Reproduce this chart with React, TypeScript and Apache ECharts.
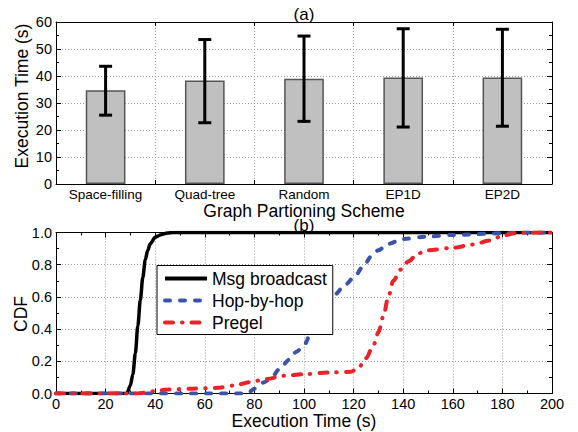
import React, { useEffect, useRef } from 'react';
import * as echarts from 'echarts';

const categories = ['Space-filling', 'Quad-tree', 'Random', 'EP1D', 'EP2D'];
const meanTimes = [34.7, 38.3, 39.0, 39.4, 39.4];
const errLow = [25.5, 22.7, 23.2, 21.1, 21.4];
const errHigh = [43.6, 53.5, 54.8, 57.5, 57.3];

const seriesNames = ['Msg broadcast', 'Hop-by-hop', 'Pregel'];

const msgBroadcast = [
  [0, 0], [28.5, 0], [30, 0.05], [31, 0.12], [32, 0.25], [33, 0.42], [34, 0.58],
  [35, 0.72], [36, 0.83], [37, 0.89], [38, 0.93], [40, 0.97], [42, 0.985],
  [45, 0.997], [47, 1.0], [200, 1.0],
];
const hopByHop = [
  [0, 0], [76, 0], [78, 0.01], [80, 0.03], [84, 0.07], [87, 0.1], [90, 0.15],
  [94, 0.21], [97, 0.26], [100, 0.3], [103, 0.38], [106, 0.48], [109, 0.55],
  [112, 0.61], [117, 0.68], [120, 0.72], [124, 0.79], [127, 0.85], [130, 0.89],
  [134, 0.93], [140, 0.96], [150, 0.975], [160, 0.985], [180, 0.995], [190, 1.0], [200, 1.0],
];
const pregel = [
  [0, 0], [33, 0], [36, 0.005], [40, 0.015], [45, 0.025], [55, 0.03], [65, 0.035],
  [72, 0.05], [78, 0.07], [85, 0.09], [92, 0.11], [100, 0.12], [110, 0.13],
  [119, 0.135], [122, 0.16], [125, 0.22], [128, 0.3], [130, 0.38], [132, 0.48],
  [134, 0.6], [136, 0.7], [139, 0.77], [142, 0.82], [146, 0.87], [150, 0.89],
  [160, 0.905], [168, 0.925], [175, 0.95], [180, 0.98], [185, 0.995], [190, 1.0], [200, 1.0],
];

const FONT = 'Arial, Liberation Sans, Helvetica, sans-serif';
const BLACK = '#000';

const gridLine = { show: true, lineStyle: { color: '#9a9a9a', type: [1, 2], width: 1 } };
const axisLine = { show: true, onZero: false, lineStyle: { color: BLACK, width: 1 } };
const tickIn = (len: number) => ({ show: true, inside: true, length: len, lineStyle: { color: BLACK, width: 1 } });
const minorIn = { show: true, splitNumber: 2, length: 3, lineStyle: { color: BLACK, width: 1 } };

function buildOption(): any {
  const errData = categories.map((_, i) => [i, errLow[i], errHigh[i]]);
  const txt = (text: string, x: number, y: number, size: number, rot = 0) => ({
    type: 'text',
    x,
    y,
    rotation: rot,
    style: {
      text,
      fontSize: size,
      fontFamily: FONT,
      fill: BLACK,
      align: 'center',
      verticalAlign: 'middle',
      textAlign: 'center',
      textVerticalAlign: 'middle',
    },
  });
  return {
    animation: false,
    backgroundColor: '#fff',
    textStyle: { fontFamily: FONT },
    grid: [
      { left: 56, top: 22, width: 496, height: 162, outerBoundsMode: 'none' },
      { left: 56, top: 232.5, width: 496, height: 161, outerBoundsMode: 'none' },
    ],
    xAxis: [
      {
        type: 'category', gridIndex: 0, data: categories, position: 'bottom',
        axisLine, axisTick: tickIn(4),
        axisLabel: { color: BLACK, fontSize: 13.5, fontFamily: FONT, margin: 3, interval: 0 },
        splitLine: gridLine,
      },
      {
        type: 'category', gridIndex: 0, data: categories, position: 'top',
        axisLine, axisTick: tickIn(4), axisLabel: { show: false }, splitLine: { show: false },
      },
      {
        type: 'value', gridIndex: 1, min: 0, max: 200, interval: 20, position: 'bottom',
        axisLine, axisTick: tickIn(5), minorTick: minorIn,
        axisLabel: { color: BLACK, fontSize: 14.5, fontFamily: FONT, margin: 3 },
        splitLine: gridLine,
      },
      {
        type: 'value', gridIndex: 1, min: 0, max: 200, interval: 20, position: 'top',
        axisLine, axisTick: tickIn(5), minorTick: minorIn,
        axisLabel: { show: false }, splitLine: { show: false },
      },
    ],
    yAxis: [
      {
        type: 'value', gridIndex: 0, min: 0, max: 60, interval: 10, position: 'left',
        axisLine, axisTick: tickIn(5), minorTick: minorIn,
        axisLabel: { color: BLACK, fontSize: 14.5, fontFamily: FONT, margin: 4 },
        splitLine: gridLine,
      },
      {
        type: 'value', gridIndex: 0, min: 0, max: 60, interval: 10, position: 'right',
        axisLine, axisTick: tickIn(5), minorTick: minorIn,
        axisLabel: { show: false }, splitLine: { show: false },
      },
      {
        type: 'value', gridIndex: 1, min: 0, max: 1, interval: 0.2, position: 'left',
        axisLine, axisTick: tickIn(5), minorTick: minorIn,
        axisLabel: {
          color: BLACK, fontSize: 14.5, fontFamily: FONT, margin: 4,
          formatter: (v: number) => v.toFixed(1),
        },
        splitLine: gridLine,
      },
      {
        type: 'value', gridIndex: 1, min: 0, max: 1, interval: 0.2, position: 'right',
        axisLine, axisTick: tickIn(5), minorTick: minorIn,
        axisLabel: { show: false }, splitLine: { show: false },
      },
    ],
    legend: {
      data: seriesNames,
      orient: 'vertical',
      left: 157,
      top: 265.5,
      padding: [4, 6, 3, 6],
      itemGap: 4,
      itemWidth: 42,
      itemHeight: 14,
      borderColor: BLACK,
      borderWidth: 1,
      borderRadius: 0,
      backgroundColor: '#fff',
      itemStyle: { opacity: 0, color: 'transparent', borderWidth: 0 },
      lineStyle: { width: 4 },
      textStyle: { fontSize: 17.5, color: BLACK, fontFamily: FONT },
      z: 20,
    },
    graphic: [
      txt('(a)', 304, 14, 17),
      txt('Graph Partioning Scheme', 304, 211, 17.5),
      txt('(b)', 304, 225, 17),
      txt('Execution Time (s)', 304, 421, 17.5),
      txt('Execution Time (s)', 22, 96, 17.5, Math.PI / 2),
      txt('CDF', 21, 314, 17.5, Math.PI / 2),
    ],
    series: [
      {
        type: 'bar', xAxisIndex: 0, yAxisIndex: 0, data: meanTimes, barWidth: '40%',
        itemStyle: { color: '#c0c0c0', borderColor: '#555', borderWidth: 1.5 },
        silent: true,
      },
      {
        type: 'custom', xAxisIndex: 0, yAxisIndex: 0, data: errData, z: 10,
        encode: { x: 0, y: [1, 2] },
        renderItem: (_params: any, api: any) => {
          const idx = api.value(0);
          const lo = api.coord([idx, api.value(1)]);
          const hi = api.coord([idx, api.value(2)]);
          const half = 6.5;
          const st = { stroke: BLACK, lineWidth: 3 };
          return {
            type: 'group',
            children: [
              { type: 'line', shape: { x1: lo[0], y1: lo[1], x2: hi[0], y2: hi[1] }, style: st },
              { type: 'line', shape: { x1: lo[0] - half, y1: lo[1], x2: lo[0] + half, y2: lo[1] }, style: st },
              { type: 'line', shape: { x1: hi[0] - half, y1: hi[1], x2: hi[0] + half, y2: hi[1] }, style: st },
            ],
          };
        },
      },
      {
        name: seriesNames[0], type: 'line', xAxisIndex: 2, yAxisIndex: 2, data: msgBroadcast,
        symbol: 'none', smooth: 0.3, smoothMonotone: 'x',
        lineStyle: { color: BLACK, width: 3.5, type: 'solid' },
        itemStyle: { color: BLACK },
      },
      {
        name: seriesNames[1], type: 'line', xAxisIndex: 2, yAxisIndex: 2, data: hopByHop,
        symbol: 'none', smooth: 0.3, smoothMonotone: 'x',
        lineStyle: { color: '#3a55a8', width: 4, type: [5, 10], cap: 'round' },
        itemStyle: { color: '#3a55a8' },
      },
      {
        name: seriesNames[2], type: 'line', xAxisIndex: 2, yAxisIndex: 2, data: pregel,
        symbol: 'none', smooth: 0.3, smoothMonotone: 'x',
        lineStyle: { color: '#ec2229', width: 4, type: [8, 9, 0.5, 9], cap: 'round' },
        itemStyle: { color: '#ec2229' },
      },
    ],
  };
}

export default function App() {
  const ref = useRef<HTMLDivElement>(null);
  useEffect(() => {
    if (!ref.current) return;
    const chart = echarts.init(ref.current, null, { renderer: 'svg' });
    chart.setOption(buildOption());
    return () => chart.dispose();
  }, []);
  return (
    <div
      ref={ref}
      style={{ position: 'fixed', left: 0, top: 0, width: 578, height: 432, background: '#fff' }}
    />
  );
}
